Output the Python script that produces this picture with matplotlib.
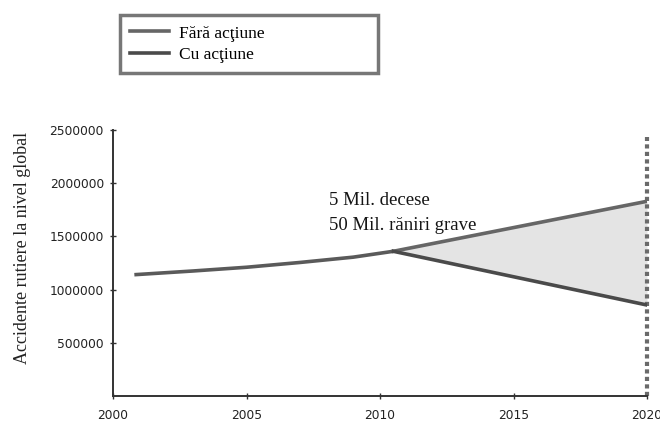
import numpy as np
import matplotlib.pyplot as plt

# road accidents worldwide, trend before the split year
years_hist = [2000.8, 2003, 2005, 2007, 2009, 2010.5]
acc_hist = [1140000, 1175000, 1210000, 1255000, 1305000, 1360000]

# two scenarios after the split
years_proj = [2010.5, 2020]
fara_actiune = [1360000, 1830000]
cu_actiune = [1360000, 855000]

x_ticks = [2000, 2005, 2010, 2015, 2020]
y_ticks = [500000, 1000000, 1500000, 2000000, 2500000]

serif = ['Liberation Serif', 'DejaVu Serif']
line_col = '#5a5a5a'

fig = plt.figure(figsize=(6.6, 4.28), dpi=100)
ax = fig.add_axes([113 / 660, 1 - 396 / 428, (647 - 113) / 660, (396 - 130) / 428])

ax.fill_between(years_proj, cu_actiune, fara_actiune, color='#e4e4e4', lw=0, zorder=1)
ax.plot(years_hist, acc_hist, color=line_col, lw=2.6, solid_capstyle='butt', zorder=3)
ax.plot(years_proj, fara_actiune, color='#666666', lw=2.6, zorder=3, label='Fără acţiune')
ax.plot(years_proj, cu_actiune, color='#4a4a4a', lw=2.6, zorder=3, label='Cu acţiune')

# horizon marker at 2020
ax.plot([2020, 2020], [0, 2430000], color='#6a6a6a', lw=3.0,
        linestyle=(0, (1.0, 0.8)), zorder=2, clip_on=False)

ax.text(2008.1, 1840000, '5 Mil. decese', family=serif, fontsize=13.5,
        color='#151515', va='center')
ax.text(2008.1, 1600000, '50 Mil. răniri grave', family=serif, fontsize=13.5,
        color='#151515', va='center')

ax.set_xlim(2000, 2020)
ax.set_ylim(0, 2500000)
ax.set_xticks(x_ticks)
ax.set_yticks(y_ticks)
ax.set_yticklabels([str(v) for v in y_ticks])
for side in ('top', 'right'):
    ax.spines[side].set_visible(False)
for side in ('left', 'bottom'):
    ax.spines[side].set_linewidth(1.4)
    ax.spines[side].set_color('#333333')
ax.tick_params(axis='both', direction='inout', length=5, width=1, colors='#333333',
               labelsize=8.8, labelcolor='#222222')
ax.tick_params(axis='x', pad=7)
ax.tick_params(axis='y', pad=4)

ax.set_ylabel('Accidente rutiere la nivel global', family=serif, fontsize=13,
              color='#222222', va='center')
ax.yaxis.set_label_coords(-0.17, 0.556)

leg = fig.legend(loc='upper left', bbox_to_anchor=(120 / 660, 1 - 76 / 428, 258 / 660, 61 / 428),
                 mode='expand', prop={'family': serif, 'size': 12.5}, frameon=True,
                 fancybox=False, handlelength=2.2, handletextpad=0.6, labelspacing=0.3,
                 borderpad=0.6, borderaxespad=0)
frame = leg.get_frame()
frame.set_edgecolor('#555555')
frame.set_linewidth(2.5)

fig.savefig('out.png', dpi=100)
